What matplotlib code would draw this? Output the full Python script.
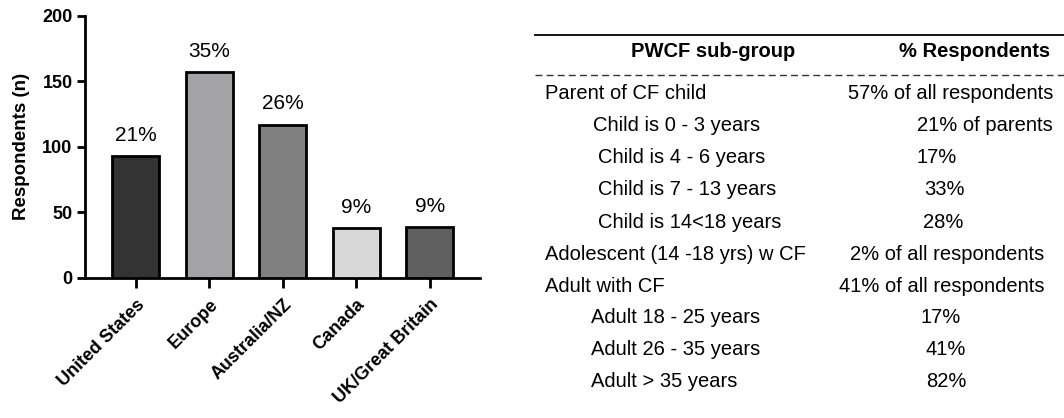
import numpy as np
import matplotlib.pyplot as plt
from matplotlib.lines import Line2D

plt.rcParams['font.family'] = ['Liberation Sans', 'DejaVu Sans']

# bar chart data
regions = ['United States', 'Europe', 'Australia/NZ', 'Canada', 'UK/Great Britain']
counts = [93, 157, 117, 38, 39]
shares = ['21%', '35%', '26%', '9%', '9%']
bar_colors = ['#333333', '#a3a3a6', '#808080', '#d8d8d8', '#606060']

# table data
subgroups = ['Parent of CF child', 'Child is 0 - 3 years', 'Child is 4 - 6 years',
             'Child is 7 - 13 years', 'Child is 14<18 years',
             'Adolescent (14 -18 yrs) w CF', 'Adult with CF',
             'Adult 18 - 25 years', 'Adult 26 - 35 years', 'Adult > 35 years']
pct = ['57% of all respondents', '21% of parents', '17%', '33%', '28%',
       '2% of all respondents', '41% of all respondents', '17%', '41%', '82%']

fig = plt.figure(figsize=(10.64, 4.18), dpi=100)
ax = fig.add_axes([0.080, 0.335, 0.371, 0.627])

x = np.arange(len(regions))
ax.bar(x, counts, width=0.64, color=bar_colors, edgecolor='black', linewidth=2, zorder=3)
for xi, c, s in zip(x, counts, shares):
    ax.annotate(s, (xi, c), xytext=(0, 11), textcoords='offset points',
                ha='center', va='baseline', fontsize=15)

ax.set_xlim(-0.69, 4.68)
ax.set_ylim(0, 200)
ax.set_yticks([0, 50, 100, 150, 200])
ax.set_xticks(x)
ax.set_xticklabels(regions, rotation=45, ha='right', rotation_mode='anchor',
                   fontweight='bold', fontsize=13)
for lab in ax.get_yticklabels():
    lab.set_fontweight('bold')
    lab.set_fontsize(13)
ax.set_ylabel('Respondents (n)', fontweight='bold', fontsize=13.5, labelpad=9)
for side in ['top', 'right']:
    ax.spines[side].set_visible(False)
for side in ['left', 'bottom']:
    ax.spines[side].set_linewidth(2)
ax.tick_params(width=2, length=6, pad=3)
ax.tick_params(axis='x', length=7, pad=6)

# table on the right, placed in figure pixels
W, H = 1064, 418
def fx(px):
    return px / W
def fy(py):
    return 1 - py / H

fig.add_artist(Line2D([fx(535), fx(1064)], [fy(35), fy(35)], color='black', lw=1.3))
fig.add_artist(Line2D([fx(535), fx(1064)], [fy(75), fy(75)], color='#333333',
                      lw=1.0, ls=(0, (5, 3))))
fig.text(fx(713), fy(57), 'PWCF sub-group', ha='center', va='baseline',
         fontsize=14.5, fontweight='bold')
fig.text(fx(975), fy(57), '% Respondents', ha='center', va='baseline',
         fontsize=14.5, fontweight='bold')

left_x = [545, 593, 598, 598, 598, 545, 545, 591, 591, 591]
right_x = [848, 917, 916, 924, 923, 850, 839, 921, 926, 926]
row_y = [99, 131, 163, 195, 228, 260, 292, 323, 355, 387]
for name, p, lx, rx, ry in zip(subgroups, pct, left_x, right_x, row_y):
    fig.text(fx(lx), fy(ry), name, ha='left', va='baseline', fontsize=14.5)
    fig.text(fx(rx), fy(ry), p, ha='left', va='baseline', fontsize=14.5)

fig.savefig('out.png', dpi=100)
